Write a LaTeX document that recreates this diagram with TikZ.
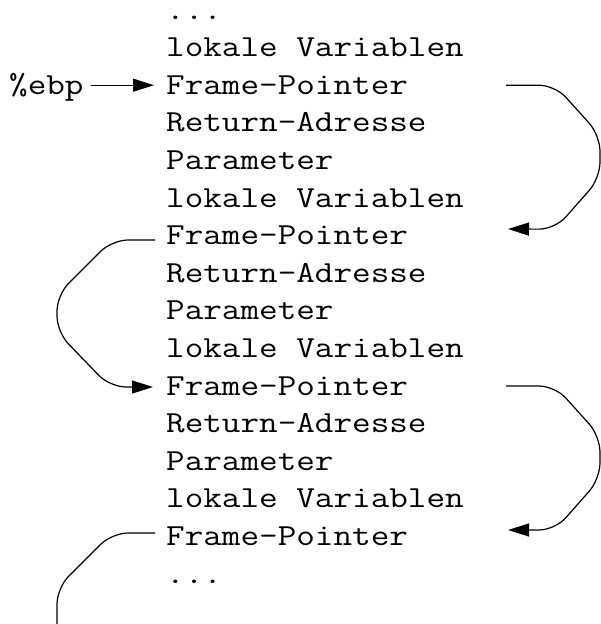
\documentclass[tikz,border=0pt]{standalone}
\usepackage{fontspec}
\setmonofont[FakeStretch=1.18]{Latin Modern Mono}
\usetikzlibrary{arrows.meta,calc}
\begin{document}
\begin{tikzpicture}[x=1pt,y=-1pt,
  row/.style={anchor=base west,inner sep=0pt,font=\ttfamily\fontsize{30.6}{36}\selectfont},
  link/.style={line width=1.2pt,rounded corners=16pt},
  tip/.style={-{Triangle[length=21pt,width=13pt]}},
  ]
\useasboundingbox (0,0) rectangle (601,624);

% stack contents, one line per row
\node[row] (r0)  at (166,19.0)  {...};
\node[row] (r1)  at (166,56.6)  {lokale Variablen};
\node[row] (r2)  at (166,94.2)  {Frame-Pointer};
\node[row] (r3)  at (166,131.8) {Return-Adresse};
\node[row] (r4)  at (166,169.4) {Parameter};
\node[row] (r5)  at (166,207.0) {lokale Variablen};
\node[row] (r6)  at (166,244.6) {Frame-Pointer};
\node[row] (r7)  at (166,282.2) {Return-Adresse};
\node[row] (r8)  at (166,319.8) {Parameter};
\node[row] (r9)  at (166,357.4) {lokale Variablen};
\node[row] (r10) at (166,395.0) {Frame-Pointer};
\node[row] (r11) at (166,432.6) {Return-Adresse};
\node[row] (r12) at (166,470.2) {Parameter};
\node[row] (r13) at (166,507.8) {lokale Variablen};
\node[row] (r14) at (166,545.4) {Frame-Pointer};
\node[row] (r15) at (166,583.0) {...};

\node[row] (ebp) at (9,94.2) {\%ebp};

% register pointer
\draw[link,tip] ($(ebp.base east)+(7,-9)$) -- ($(r2.base west)+(-12,-9)$);

% saved frame pointers, right side
\draw[link,tip] ($(r2.base west)+(340,-9)$) -- ++(49,0) -- ++(45,50)
  -- ++(0,43) -- ++(-45,51) -- ($(r6.base west)+(342,-15.6)$);
\draw[link,tip] ($(r10.base west)+(340,-9)$) -- ++(49,0) -- ++(45,50)
  -- ++(0,43) -- ++(-45,51) -- ($(r14.base west)+(342,-15.4)$);

% saved frame pointers, left side
\draw[link,tip] ($(r6.base west)+(-11,-4.6)$) -- ++(-43,0) -- ++(-55,55)
  -- ++(0,37) -- ++(53,55) -- ($(r10.base west)+(-13,-8)$);
\draw[link] ($(r14.base west)+(-11,-12.4)$) -- ++(-43,0) -- ++(-55,55)
  -- ++(0,60);
\end{tikzpicture}
\end{document}
